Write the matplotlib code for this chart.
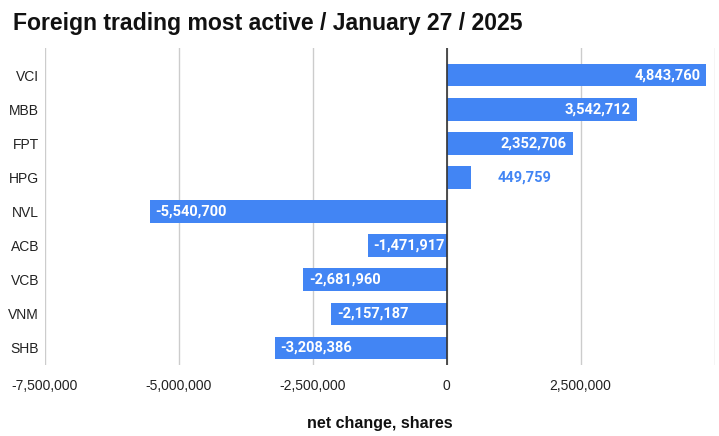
import matplotlib.pyplot as plt
from matplotlib.ticker import FuncFormatter

# --- Data ---
tickers = ["VCI", "MBB", "FPT", "HPG", "NVL", "ACB", "VCB", "VNM", "SHB"]
net_change = [4843760, 3542712, 2352706, 449759, -5540700,
              -1471917, -2681960, -2157187, -3208386]
x_ticks = [-7500000, -5000000, -2500000, 0, 2500000, 5000000]

blue = "#4285F4"
narrow = ["Liberation Sans Narrow", "Liberation Sans", "DejaVu Sans"]
roboto = ["Roboto", "DejaVu Sans"]

fig = plt.figure(figsize=(7.19, 4.36), dpi=100)
ax = fig.add_axes([0.062, 0.163, 0.932, 0.727])

y = list(range(len(tickers)))
ax.barh(y, net_change, height=0.66, color=blue, zorder=3)

ax.set_ylim(len(tickers) - 0.5, -0.5 - 0.3)
ax.set_xlim(-7500000, 5000000)
ax.set_xticks(x_ticks)
ax.xaxis.set_major_formatter(FuncFormatter(lambda v, p: "" if v == 5000000 else f"{int(v):,}"))
ax.set_yticks(y)
ax.set_yticklabels(tickers, family=["Liberation Sans", "DejaVu Sans"], fontsize=10, color="#222222")
for lab in ax.get_xticklabels():
    lab.set_family(narrow)
    lab.set_fontsize(10)
    lab.set_color("#222222")

ax.grid(axis="x", color="#cccccc", lw=1, zorder=0)
ax.axvline(0, color="#333333", lw=1.2, zorder=4)
for s in ax.spines.values():
    s.set_visible(False)
ax.tick_params(axis="x", length=0, pad=10)
ax.tick_params(axis="y", length=0, pad=4)

# data labels
for yi, v in zip(y, net_change):
    txt = f"{v:,}"
    if abs(v) < 1000000:
        ax.text(v + 500000, yi, txt, ha="left", va="center", color=blue,
                fontsize=10.5, fontweight="bold", family=roboto, zorder=5)
    elif v > 0:
        ax.text(v - 110000, yi, txt, ha="right", va="center", color="white",
                fontsize=10.5, fontweight="bold", family=roboto, zorder=5)
    else:
        ax.text(v + 110000, yi, txt, ha="left", va="center", color="white",
                fontsize=10.5, fontweight="bold", family=roboto, zorder=5)

ax.set_xlabel("net change, shares", fontsize=11.5, fontweight="bold", family=narrow,
              color="#111111", labelpad=17)
fig.text(0.018, 0.945, "Foreign trading most active / January 27 / 2025", fontsize=16.6,
         fontweight="bold", family=narrow, va="center", ha="left", color="#111111")

fig.savefig("out.png", dpi=100)
